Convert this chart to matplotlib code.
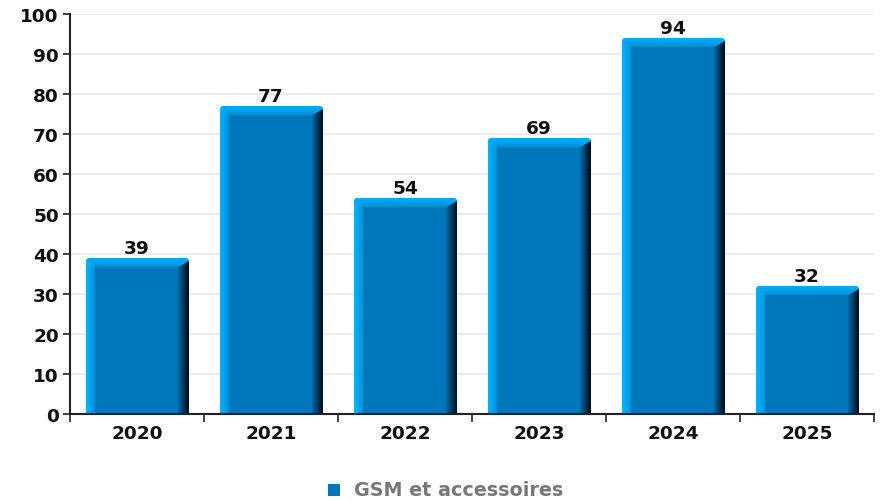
import matplotlib
matplotlib.use("Agg")
import matplotlib.pyplot as plt
import numpy as np
from matplotlib.patches import Polygon, Rectangle, FancyBboxPatch
from matplotlib.colors import LinearSegmentedColormap

categories = ["2020", "2021", "2022", "2023", "2024", "2025"]
values = [39, 77, 54, 69, 94, 32]
series_name = "GSM et accessoires"
yticks = [0, 10, 20, 30, 40, 50, 60, 70, 80, 90, 100]

W, H = 886, 502
fig = plt.figure(figsize=(W / 100, H / 100), dpi=100)
ax = fig.add_axes([70 / W, 87 / H, 804 / W, 400 / H])
n = len(categories)
ax.set_xlim(0, n)
ax.set_ylim(0, 100)

px_x = n / 804.0
px_y = 100 / 400.0

FS = 13.3
main_c = "#0077BB"
light_c = "#00A9F2"
dark_cmap = LinearSegmentedColormap.from_list("dk", ["#006AA6", "#00385A", "#000A12"])
left_cmap = LinearSegmentedColormap.from_list("lt", ["#00B4FF", "#0094D8"])
top_cmap = LinearSegmentedColormap.from_list("tp", ["#0090D2", "#00B0FA"])

bw = 103 * px_x
for i, v in enumerate(values):
    x0 = i + 0.5 - bw / 2 + 0.5 * px_x
    x1 = x0 + bw
    top = v
    dl = 9 * px_x
    dr = 11 * px_x
    dt = 9 * px_y
    base = FancyBboxPatch((x0, -5), bw, top + 5, boxstyle="round,pad=0,rounding_size=0.025",
                          mutation_aspect=px_y / px_x, facecolor=light_c, edgecolor="none", zorder=3)
    ax.add_patch(base)
    # top bevel gradient
    tp = Polygon([(x0 + 2 * px_x, top - 1 * px_y), (x1 - 3 * px_x, top - 1 * px_y),
                  (x1 - dr, top - dt), (x0 + dl, top - dt)], closed=True,
                 facecolor="none", edgecolor="none", zorder=3)
    ax.add_patch(tp)
    gv = np.linspace(0, 1, 50).reshape(-1, 1)
    im0 = ax.imshow(gv, cmap=top_cmap, extent=(x0, x1, top - dt, top), aspect="auto",
                    origin="lower", zorder=3.05)
    im0.set_clip_path(tp)
    # left strip gradient
    lp = Polygon([(x0, 0), (x0, top - 3 * px_y), (x0 + dl, top - dt), (x0 + dl, 0)], closed=True,
                 facecolor="none", edgecolor="none", zorder=3)
    ax.add_patch(lp)
    grad = np.linspace(0, 1, 50).reshape(1, -1)
    im = ax.imshow(grad, cmap=left_cmap, extent=(x0, x0 + dl, 0, top), aspect="auto", zorder=3.1)
    im.set_clip_path(lp)
    # right dark strip gradient
    rp = Polygon([(x1 - dr, 0), (x1 - dr, top - dt), (x1, top - 3 * px_y), (x1, 0)], closed=True,
                 facecolor="none", edgecolor="none", zorder=3)
    ax.add_patch(rp)
    im2 = ax.imshow(grad, cmap=dark_cmap, extent=(x1 - dr, x1, 0, top), aspect="auto", zorder=3.2)
    im2.set_clip_path(rp)
    # main face
    ax.add_patch(Rectangle((x0 + dl, 0), bw - dl - dr, top - dt, facecolor=main_c,
                           edgecolor="none", zorder=3.3))
    ax.text(i + 0.5, top + 0.3, str(v), ha="center", va="bottom", fontsize=FS,
            fontweight="bold", color="#111111", zorder=5)

ax.set_ylim(0, 100)
ax.set_xlim(0, n)
ax.set_yticks(yticks)
ax.set_yticklabels([str(t) for t in yticks], fontsize=FS, fontweight="bold", color="#111111")
ax.set_xticks(np.arange(n) + 0.5)
ax.set_xticklabels(categories, fontsize=FS, fontweight="bold", color="#111111")
ax.set_xticks(np.arange(n + 1), minor=True)
ax.tick_params(axis="x", which="major", length=0, pad=7)
ax.tick_params(axis="x", which="minor", length=6, width=1.2, color="#222222")
ax.tick_params(axis="y", length=5, width=1.2, color="#222222", pad=3)
for t in yticks:
    ax.axhline(t, color="#E8E8E8", lw=1.2, zorder=1)
for s in ["top", "right"]:
    ax.spines[s].set_visible(False)
for s in ["left", "bottom"]:
    ax.spines[s].set_linewidth(1.5)
    ax.spines[s].set_color("#222222")
    ax.spines[s].set_zorder(6)
ax.set_axisbelow(True)

# legend
fig.patches.append(Rectangle((328 / W, 1 - 497 / H), 12 / W, 12 / H, transform=fig.transFigure,
                             facecolor=main_c, edgecolor="none"))
fig.text(354 / W, 1 - 491 / H, series_name, ha="left", va="center", fontsize=13.8,
         fontweight="bold", color="#777777")

fig.savefig("out.png", dpi=100)
